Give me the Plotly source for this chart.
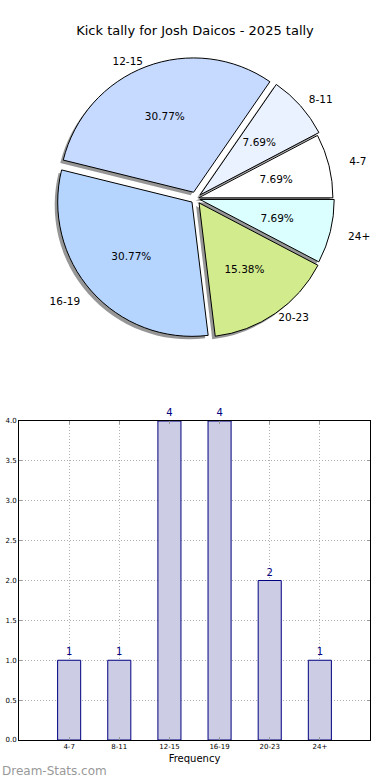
import math
import plotly.graph_objects as go

# ---- data ----
categories = ["4-7", "8-11", "12-15", "16-19", "20-23", "24+"]
counts = [1, 1, 4, 4, 2, 1]
slice_colors = ["#FFFFFF", "#EBF2FF", "#C6D9FF", "#B5D5FF", "#D2EB8C", "#DBFFFF"]
explode = [0.02, 0.04, 0.05, 0.04, 0.04, 0.03]
label_push = [1.13, 1.05, 1.0, 1.08, 1.0, 1.11]  # how far out each outer label sits
title_text = "Kick tally for Josh Daicos - 2025 tally"
x_title = "Frequency"
y_ticks = [0.0, 0.5, 1.0, 1.5, 2.0, 2.5, 3.0, 3.5, 4.0]
watermark = "Dream-Stats.com"

W, H = 390, 780
FONT = "DejaVu Sans"
PCT_DIST = 0.6  # where percentage labels sit, as a fraction of the radius

total = sum(counts)
# first slice should start at 3 o'clock going counterclockwise
rotation = 90 - 360 * counts[0] / total

# pie geometry (paper fractions)
cx, cy, half = 196 / W, 1 - 198.5 / H, 141.0


def dom(scale=1.0, dx=0.0, dy=0.0):
    return dict(x=[cx - half * scale / W + dx, cx + half * scale / W + dx],
                y=[cy - half * scale / H + dy, cy + half * scale / H + dy])


common = dict(labels=categories, values=counts, sort=False,
              direction="counterclockwise", rotation=rotation, pull=explode,
              showlegend=False)
clear = dict(colors=["rgba(0,0,0,0)"] * len(counts), line=dict(width=0))

fig = go.Figure()

# shadow
fig.add_trace(go.Pie(
    **common, textinfo="none",
    marker=dict(colors=["rgba(80,80,80,0.6)"] * len(counts), line=dict(width=0)),
    domain=dom(1.0, -3 / W, -3 / H), hoverinfo="skip",
))
# main pie
fig.add_trace(go.Pie(
    **common, textinfo="none",
    marker=dict(colors=slice_colors, line=dict(color="black", width=1)),
    domain=dom(),
))

# percentage labels: plotly centres horizontal inside text at (1 - r_inscribed)
# of the radius, so each slice size gets a text-only pie scaled to put it at PCT_DIST
scales = []
for v in counts:
    h = math.pi * v / total
    r_ins = 1 / (1 + 1 / math.sin(h))
    scales.append(round(PCT_DIST / (1 - r_ins), 4))
for s in sorted(set(scales)):
    tmpl = ["%{percent:.2%}" if sc == s else "" for sc in scales]
    fig.add_trace(go.Pie(
        **common, texttemplate=tmpl, textposition="inside",
        insidetextorientation="horizontal",
        insidetextfont=dict(family=FONT, size=10.5, color="black"),
        marker=clear, domain=dom(s), hoverinfo="skip",
    ))

# category labels outside, one text-only pie per push distance
for s in sorted(set(label_push)):
    tmpl = ["%{label}" if p == s else "" for p in label_push]
    fig.add_trace(go.Pie(
        **common, texttemplate=tmpl, textposition="outside",
        outsidetextfont=dict(family=FONT, size=10.5, color="black"),
        marker=clear, domain=dom(s), hoverinfo="skip",
    ))

# bar chart
fig.add_trace(go.Bar(
    x=categories, y=counts, width=0.46,
    marker=dict(color="#CCCCE5", line=dict(color="#000080", width=1)),
    text=[str(c) for c in counts], textposition="outside", cliponaxis=False,
    textfont=dict(family=FONT, size=10, color="#000080"),
    xaxis="x", yaxis="y", showlegend=False,
))

grid = dict(showgrid=True, gridcolor="#B0B0B0", griddash="1px,2px", gridwidth=1)
fig.update_layout(
    width=W, height=H, autosize=False,
    margin=dict(l=0, r=0, t=0, b=0),
    paper_bgcolor="white", plot_bgcolor="white",
    font=dict(family=FONT, color="black"),
    title=dict(text=title_text, x=0.5, xanchor="center", y=1 - 30 / H,
               yanchor="middle", yref="container",
               font=dict(family=FONT, size=13, color="black")),
    xaxis=dict(domain=[19 / W, 370 / W], anchor="y", type="category",
               range=[-1, 6], automargin=False, showline=True, mirror="ticks",
               linecolor="black", linewidth=1, ticks="inside", ticklen=3,
               tickcolor="#999999",
               tickfont=dict(family=FONT, size=7, color="black"),
               title=dict(text=x_title, font=dict(family=FONT, size=10), standoff=4),
               zeroline=False, **grid),
    yaxis=dict(domain=[40 / H, 359 / H], anchor="x", range=[0, 4],
               automargin=False, tickvals=y_ticks, tickformat=".1f",
               showline=True, mirror="ticks", linecolor="black", linewidth=1,
               ticks="inside", ticklen=3, tickcolor="#999999",
               tickfont=dict(family=FONT, size=7, color="black"),
               zeroline=False, **grid),
    annotations=[dict(text=watermark, xref="paper", yref="paper", x=0, y=0,
                      xanchor="left", yanchor="bottom", showarrow=False,
                      font=dict(family=FONT, size=12, color="#999999"))],
)

fig.write_html("out.html", config={"displayModeBar": False},
               post_script="document.body.style.margin='0';")
